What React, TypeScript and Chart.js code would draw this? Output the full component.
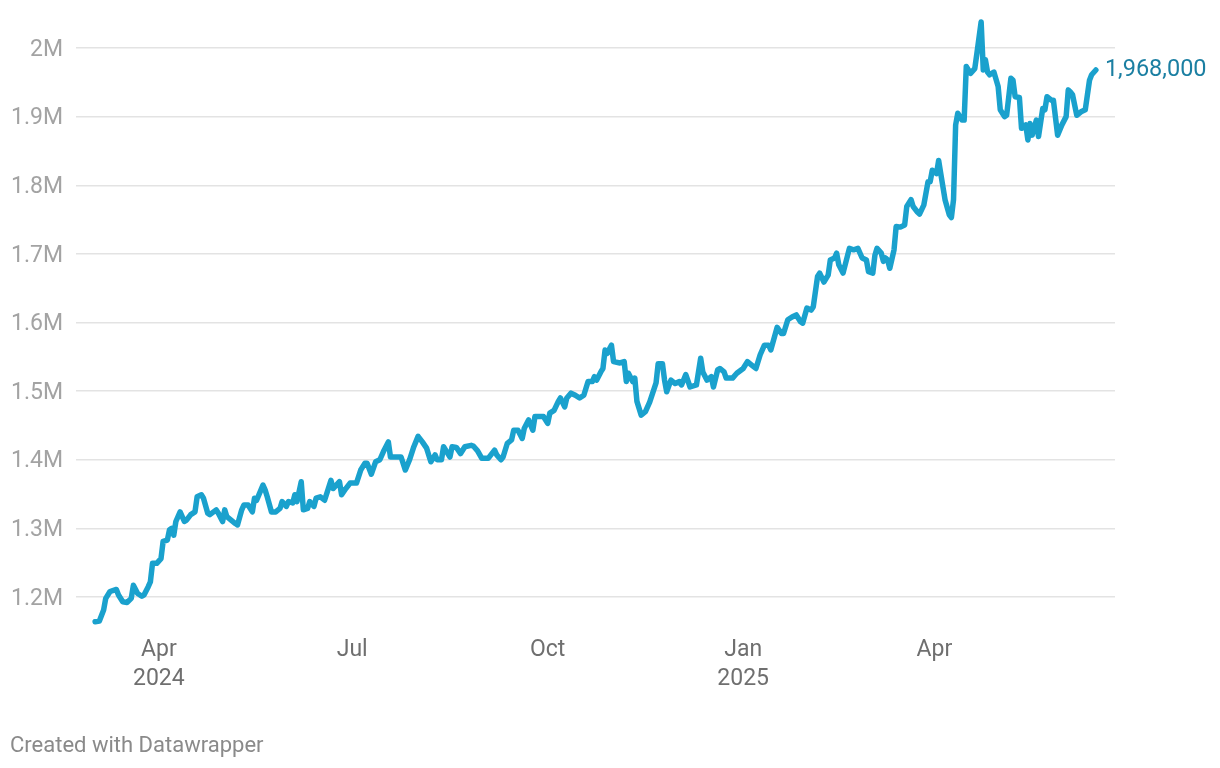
import { useEffect, useRef } from "react";
import { Chart, registerables } from "chart.js";

Chart.register(...registerables);

// ---- Data ----
const dates: string[] = [
  "2024-03-02","2024-03-04","2024-03-06","2024-03-07","2024-03-09","2024-03-11","2024-03-12","2024-03-13","2024-03-15","2024-03-17",
  "2024-03-19","2024-03-20","2024-03-22","2024-03-24","2024-03-25","2024-03-27","2024-03-28","2024-03-29","2024-03-31","2024-04-02",
  "2024-04-03","2024-04-05","2024-04-06","2024-04-07","2024-04-08","2024-04-09","2024-04-11","2024-04-13","2024-04-14","2024-04-16",
  "2024-04-18","2024-04-19","2024-04-21","2024-04-22","2024-04-24","2024-04-25","2024-04-28","2024-04-29","2024-05-01","2024-05-02",
  "2024-05-03","2024-05-05","2024-05-07","2024-05-08","2024-05-10","2024-05-11","2024-05-13","2024-05-15","2024-05-16","2024-05-17",
  "2024-05-20","2024-05-21","2024-05-22","2024-05-24","2024-05-26","2024-05-28","2024-05-29","2024-05-31","2024-06-01","2024-06-03",
  "2024-06-04","2024-06-05","2024-06-07","2024-06-08","2024-06-10","2024-06-11","2024-06-13","2024-06-14","2024-06-16","2024-06-18",
  "2024-06-21","2024-06-22","2024-06-25","2024-06-26","2024-06-28","2024-06-30","2024-07-03","2024-07-05","2024-07-07","2024-07-08",
  "2024-07-10","2024-07-12","2024-07-14","2024-07-16","2024-07-18","2024-07-19","2024-07-21","2024-07-24","2024-07-26","2024-07-28",
  "2024-07-30","2024-08-01","2024-08-03","2024-08-05","2024-08-06","2024-08-07","2024-08-09","2024-08-10","2024-08-12","2024-08-13",
  "2024-08-14","2024-08-16","2024-08-17","2024-08-19","2024-08-21","2024-08-23","2024-08-26","2024-08-27","2024-08-29","2024-08-31",
  "2024-09-03","2024-09-06","2024-09-07","2024-09-09","2024-09-10","2024-09-12","2024-09-14","2024-09-15","2024-09-17","2024-09-19",
  "2024-09-20","2024-09-22","2024-09-24","2024-09-25","2024-09-27","2024-09-29","2024-10-01","2024-10-02","2024-10-04","2024-10-06",
  "2024-10-07","2024-10-09","2024-10-10","2024-10-12","2024-10-14","2024-10-16","2024-10-18","2024-10-20","2024-10-22","2024-10-23",
  "2024-10-24","2024-10-26","2024-10-27","2024-10-28","2024-10-29","2024-10-31","2024-11-01","2024-11-04","2024-11-06","2024-11-07",
  "2024-11-08","2024-11-10","2024-11-11","2024-11-12","2024-11-14","2024-11-16","2024-11-18","2024-11-21","2024-11-22","2024-11-24",
  "2024-11-25","2024-11-26","2024-11-28","2024-11-30","2024-12-02","2024-12-03","2024-12-05","2024-12-07","2024-12-10","2024-12-12",
  "2024-12-13","2024-12-15","2024-12-17","2024-12-18","2024-12-20","2024-12-21","2024-12-23","2024-12-24","2024-12-27","2024-12-29",
  "2025-01-01","2025-01-03","2025-01-05","2025-01-07","2025-01-09","2025-01-11","2025-01-13","2025-01-14","2025-01-17","2025-01-19",
  "2025-01-20","2025-01-22","2025-01-24","2025-01-26","2025-01-28","2025-01-29","2025-01-31","2025-02-02","2025-02-03","2025-02-05",
  "2025-02-06","2025-02-08","2025-02-10","2025-02-11","2025-02-13","2025-02-14","2025-02-15","2025-02-17","2025-02-19","2025-02-20",
  "2025-02-22","2025-02-24","2025-02-26","2025-02-28","2025-03-01","2025-03-03","2025-03-04","2025-03-05","2025-03-07","2025-03-08",
  "2025-03-09","2025-03-10","2025-03-11","2025-03-13","2025-03-14","2025-03-16","2025-03-18","2025-03-19","2025-03-21","2025-03-22",
  "2025-03-24","2025-03-25","2025-03-27","2025-03-29","2025-03-30","2025-03-31","2025-04-02","2025-04-03","2025-04-04","2025-04-06",
  "2025-04-08","2025-04-09","2025-04-10","2025-04-11","2025-04-12","2025-04-14","2025-04-15","2025-04-16","2025-04-18","2025-04-20",
  "2025-04-21","2025-04-23","2025-04-24","2025-04-25","2025-04-26","2025-04-27","2025-04-29","2025-05-01","2025-05-02","2025-05-04",
  "2025-05-05","2025-05-07","2025-05-08","2025-05-09","2025-05-11","2025-05-12","2025-05-14","2025-05-15","2025-05-16","2025-05-17",
  "2025-05-19","2025-05-20","2025-05-22","2025-05-23","2025-05-24","2025-05-26","2025-05-27","2025-05-29","2025-05-31","2025-06-02",
  "2025-06-03","2025-06-04","2025-06-05","2025-06-07","2025-06-09","2025-06-11","2025-06-13","2025-06-14","2025-06-16",
];

const values: number[] = [
  1164000,1165000,1181000,1198000,1208000,1210000,1211000,1203000,1193000,1192000,
  1198000,1217000,1205000,1201000,1203000,1215000,1222000,1249000,1249000,1256000,
  1281000,1283000,1298000,1300000,1290000,1310000,1324000,1310000,1312000,1320000,
  1324000,1346000,1349000,1344000,1322000,1320000,1327000,1322000,1310000,1327000,
  1317000,1312000,1307000,1305000,1327000,1334000,1334000,1324000,1344000,1341000,
  1363000,1356000,1346000,1324000,1324000,1329000,1339000,1332000,1339000,1337000,
  1349000,1339000,1368000,1327000,1329000,1339000,1332000,1344000,1346000,1341000,
  1370000,1358000,1368000,1349000,1358000,1366000,1366000,1385000,1395000,1395000,
  1379000,1397000,1400000,1414000,1426000,1404000,1404000,1404000,1385000,1400000,
  1419000,1434000,1426000,1417000,1407000,1397000,1407000,1400000,1400000,1419000,
  1414000,1404000,1419000,1418000,1409000,1419000,1421000,1420000,1413000,1402000,
  1402000,1414000,1407000,1400000,1404000,1424000,1429000,1443000,1443000,1431000,
  1446000,1458000,1443000,1463000,1463000,1463000,1453000,1468000,1472000,1485000,
  1490000,1477000,1490000,1497000,1494000,1490000,1494000,1514000,1514000,1521000,
  1516000,1528000,1533000,1560000,1555000,1567000,1543000,1541000,1543000,1514000,
  1526000,1514000,1519000,1485000,1465000,1470000,1484000,1512000,1540000,1540000,
  1516000,1499000,1516000,1511000,1514000,1509000,1524000,1506000,1509000,1548000,
  1528000,1516000,1521000,1506000,1531000,1533000,1528000,1519000,1519000,1526000,
  1533000,1543000,1538000,1533000,1553000,1567000,1567000,1560000,1593000,1584000,
  1584000,1604000,1608000,1611000,1601000,1599000,1621000,1618000,1623000,1667000,
  1672000,1659000,1669000,1691000,1694000,1701000,1684000,1672000,1696000,1708000,
  1706000,1708000,1694000,1691000,1674000,1672000,1698000,1708000,1701000,1689000,
  1694000,1691000,1679000,1706000,1740000,1739000,1742000,1769000,1779000,1769000,
  1761000,1758000,1771000,1805000,1805000,1822000,1817000,1836000,1817000,1779000,
  1757000,1753000,1779000,1888000,1905000,1895000,1895000,1973000,1963000,1970000,
  1992000,2038000,1968000,1983000,1965000,1961000,1965000,1944000,1910000,1900000,
  1902000,1956000,1953000,1929000,1928000,1883000,1888000,1866000,1890000,1873000,
  1895000,1871000,1912000,1910000,1929000,1924000,1924000,1873000,1888000,1900000,
  1939000,1936000,1932000,1902000,1907000,1910000,1953000,1961000,1968000,
];

const yTicks: number[] = [1200000, 1300000, 1400000, 1500000, 1600000, 1700000, 1800000, 1900000, 2000000];
const yRange: number[] = [1150000, 2050000];
const xTickDates: string[] = ["2024-04-01", "2024-07-01", "2024-10-01", "2025-01-01", "2025-04-01"];
const xTickLabels: string[][] = [["Apr", "2024"], ["Jul"], ["Oct"], ["Jan", "2025"], ["Apr"]];
const xRange: string[] = ["2024-02-22", "2025-06-25"];
const footerText = "Created with Datawrapper";

const LINE_COLOR = "#1aa1cd";
const LABEL_COLOR = "#1b7fa2";

const toDay = (s: string): number => {
  const [y, m, d] = s.split("-").map(Number);
  return Date.UTC(y, m - 1, d) / 86400000;
};

const fmtM = (v: number): string => `${+(v / 1e6).toFixed(1)}M`;

export default function App() {
  const canvasRef = useRef<HTMLCanvasElement | null>(null);

  useEffect(() => {
    const canvas = canvasRef.current;
    if (!canvas) return;

    const points = dates.map((d, i) => ({ x: toDay(d), y: values[i] }));
    const lastValue = values[values.length - 1];
    const lastLabel = lastValue.toLocaleString("en-US");

    const overlay = {
      id: "overlay",
      afterDatasetsDraw(chart: any) {
        const meta = chart.getDatasetMeta(0);
        const pt = meta.data[meta.data.length - 1];
        const ctx = chart.ctx as CanvasRenderingContext2D;
        ctx.save();
        ctx.font = "23.5px Roboto";
        ctx.fillStyle = LABEL_COLOR;
        ctx.textAlign = "left";
        ctx.textBaseline = "middle";
        ctx.fillText(lastLabel, pt.x + 9, pt.y);
        ctx.font = "22px Roboto";
        ctx.fillStyle = "#8a8a8a";
        ctx.textBaseline = "alphabetic";
        ctx.fillText(footerText, 10, 752);
        ctx.restore();
      },
    };

    const chart = new Chart(canvas, {
      type: "line",
      data: {
        datasets: [
          {
            data: points,
            borderColor: LINE_COLOR,
            borderWidth: 5.5,
            borderJoinStyle: "round",
            borderCapStyle: "round",
            pointRadius: 0,
            pointHoverRadius: 0,
            tension: 0,
            fill: false,
          },
        ],
      },
      options: {
        responsive: false,
        animation: false,
        devicePixelRatio: 1,
        layout: { padding: { left: 0, right: 105, top: 13.7, bottom: 0 } },
        plugins: {
          legend: { display: false },
          tooltip: { enabled: false },
          title: { display: false },
        },
        scales: {
          x: {
            type: "linear",
            min: toDay(xRange[0]),
            max: toDay(xRange[1]),
            grid: { display: false, drawTicks: false },
            border: { display: false },
            afterBuildTicks: (scale: any) => {
              scale.ticks = xTickDates.map((d) => ({ value: toDay(d) }));
            },
            afterFit: (scale: any) => {
              scale.height = 136.7;
              scale.paddingLeft = 0;
              scale.paddingRight = 0;
            },
            ticks: {
              autoSkip: false,
              maxRotation: 0,
              padding: 4,
              color: "#6f6f6f",
              font: { family: "Roboto", size: 23, lineHeight: 1.27 },
              callback: (_v: any, i: number) => xTickLabels[i],
            },
          },
          y: {
            type: "linear",
            min: yRange[0],
            max: yRange[1],
            grid: { color: "#e3e3e3", lineWidth: 1.5, drawTicks: false },
            border: { display: false },
            afterBuildTicks: (scale: any) => {
              scale.ticks = yTicks.map((v) => ({ value: v }));
            },
            afterFit: (scale: any) => {
              scale.width = 76;
              scale.paddingTop = 0;
              scale.paddingBottom = 0;
            },
            ticks: {
              padding: 13,
              color: "#a3a3a3",
              labelOffset: 2,
              font: { family: "Roboto", size: 23 },
              callback: (v: any) => fmtM(Number(v)),
            },
          },
        },
      },
      plugins: [overlay],
    } as any);

    return () => chart.destroy();
  }, []);

  return (
    <div style={{ position: "absolute", left: 0, top: 0, width: 1220, height: 768, background: "#fff" }}>
      <canvas ref={canvasRef} width={1220} height={768} style={{ display: "block" }} />
    </div>
  );
}
